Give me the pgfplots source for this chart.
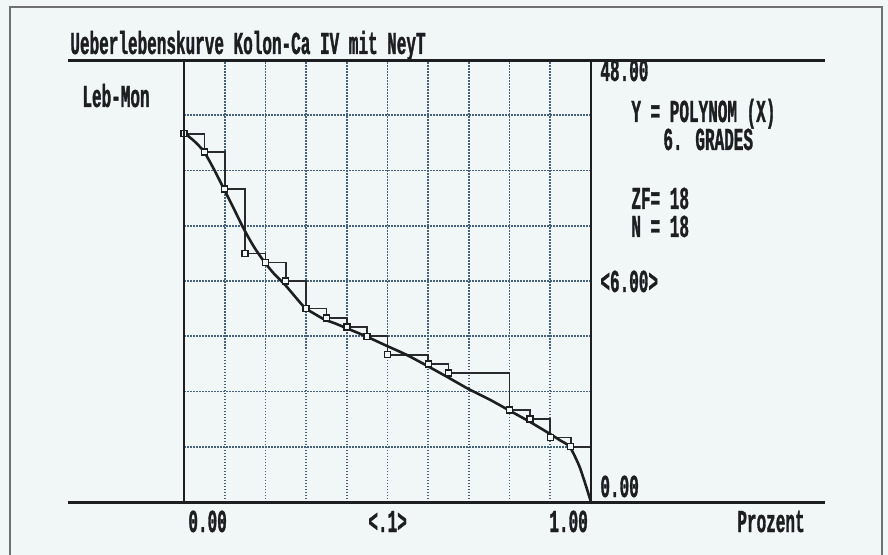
\documentclass[border=0pt]{standalone}
\usepackage{fontspec}
\usepackage{pgfplots}
\pgfplotsset{compat=1.18}

\newfontfamily\dos{Liberation Mono}[FakeStretch=0.5, FakeBold=1]
\newcommand\dosfont{\dos\bfseries\fontsize{16}{18}\selectfont}

\definecolor{bg}{RGB}{241,246,247}
\definecolor{ink}{RGB}{28,30,32}
\definecolor{stepc}{RGB}{40,42,45}
\definecolor{gridc}{RGB}{70,98,122}
\definecolor{framec}{RGB}{110,112,114}

\begin{document}
\begin{tikzpicture}
% page in pixel units of the reference (y downwards)
\begin{scope}[x=0.5pt,y=-0.5pt]
  \fill[bg] (0,0) rectangle (888,555);
  \useasboundingbox (0,0) rectangle (888,555);
  \draw[framec, line width=0.75pt] (10,555) -- (10,7) -- (882,7) -- (882,555);
\end{scope}

\begin{axis}[
    at={(92pt,-251pt)}, anchor=south west,
    scale only axis,
    width=203.5pt, height=221pt,
    xmin=0, xmax=1, ymin=0, ymax=48,
    axis line style={draw=none},
    xtick={0.1,0.2,0.3,0.4,0.5,0.6,0.7,0.8,0.9},
    ytick={6,12,18,24,30,36,42},
    xticklabels={}, yticklabels={},
    major tick length=0pt,
    grid=major,
    major grid style={gridc, line width=0.85pt, dash pattern=on 0.75pt off 0.75pt},
]
% Kaplan-Meier type steps
\addplot[const plot, stepc, line width=0.85pt] coordinates {
    (0,40) (0.05,38) (0.1,34) (0.15,27) (0.2,26) (0.25,24) (0.3,21)
    (0.35,20) (0.4,19) (0.45,18) (0.5,16) (0.6,15) (0.65,14) (0.8,10)
    (0.85,9) (0.9,7) (0.95,6) (1,6) (1,0)
};
\addplot[only marks, mark=square*, mark size=1.5pt,
    mark options={fill=bg, draw=ink, line width=0.7pt}] coordinates {
    (0,40) (0.05,38) (0.1,34) (0.15,27) (0.2,26) (0.25,24) (0.3,21)
    (0.35,20) (0.4,19) (0.45,18) (0.5,16) (0.6,15) (0.65,14) (0.8,10)
    (0.85,9) (0.9,7) (0.95,6)
};
% fitted polynomial, 6th degree
\addplot[ink, line width=1.3pt, smooth, tension=0.4] coordinates {
    (0,40.1) (0.025,39.2) (0.049,38.06) (0.074,36.1) (0.098,34.0)
    (0.123,31.8) (0.147,29.65) (0.172,27.7) (0.197,26.1) (0.221,24.8)
    (0.248,23.6) (0.273,22.3) (0.297,21.1) (0.322,20.4) (0.346,19.8)
    (0.371,19.4) (0.398,18.9) (0.447,18.0) (0.496,17.0) (0.546,16.0)
    (0.597,14.8) (0.646,13.6) (0.698,12.3) (0.752,11.1) (0.801,9.9)
    (0.850,8.7) (0.899,7.4) (0.924,6.7) (0.948,5.97) (0.973,3.7) (1,0)
};
\end{axis}

\begin{scope}[x=0.5pt,y=-0.5pt]
  \draw[ink, line width=1.5pt] (68,60.5) -- (825,60.5);
  \draw[ink, line width=1.5pt] (68,502) -- (825,502);
  \draw[ink, line width=1pt] (184,60) -- (184,502);
  \draw[ink, line width=1pt] (591,60) -- (591,502);

  \begin{scope}[every node/.style={anchor=base west, inner sep=0pt, text=ink,
      font=\dosfont, text height=9.5pt, text depth=0pt}]
    \node at (70,54) {Ueberlebenskurve Kolon-Ca IV mit NeyT};
    \node at (82,107) {Leb-Mon};
    \node at (600,81) {48.00};
    \node at (631,122) {Y = POLYNOM (X)};
    \node at (663,150) {6. GRADES};
    \node at (631,209) {ZF= 18};
    \node at (631,237) {N = 18};
    \node at (600,292) {<6.00>};
    \node at (600,497) {0.00};
    \node at (188,532) {0.00};
    \node at (368,532) {<.1>};
    \node at (549,532) {1.00};
    \node at (737,532) {Prozent};
  \end{scope}
\end{scope}
\end{tikzpicture}
\end{document}
